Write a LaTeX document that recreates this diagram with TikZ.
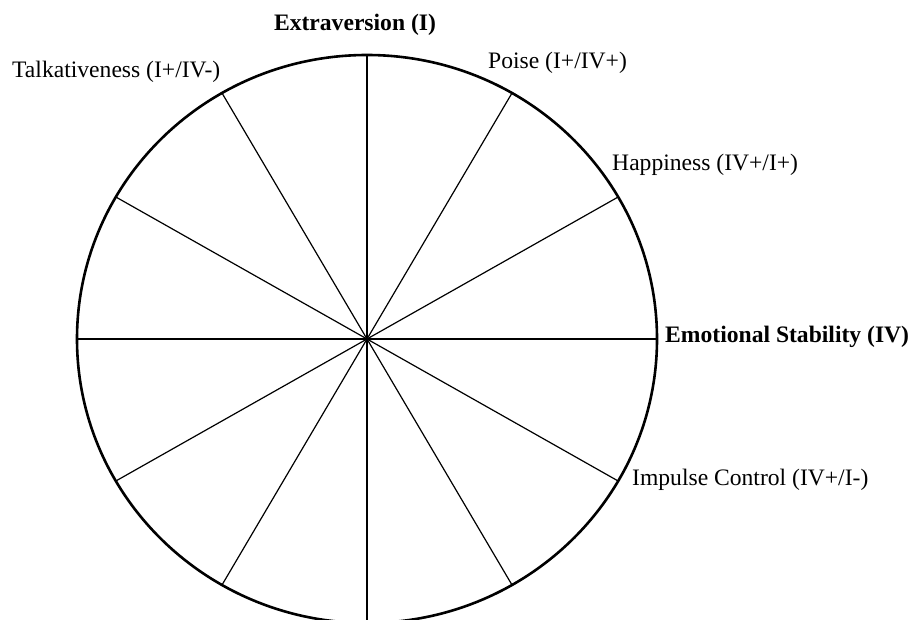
\documentclass[tikz,border=0pt]{standalone}
\usepackage{fontspec}
\setmainfont{Liberation Serif}
\begin{document}
\begin{tikzpicture}[x=1pt,y=1pt,
    rim/.style={line width=2.6pt},
    axis/.style={line width=2.4pt},
    spoke/.style={line width=1.2pt},
    lbl/.style={inner sep=0pt,anchor=west,font=\fontsize{23.6}{27}\selectfont},
    blbl/.style={lbl,font=\fontsize{23.6}{27}\selectfont\bfseries}]
\useasboundingbox (0,0) rectangle (909,619);
\coordinate (c) at (367,280);
\foreach \a in {0,30,...,330}
    \path (c) ++(\a:290 and 284) coordinate (s\a);
\foreach \a in {30,60,120,150,210,240,300,330}
    \draw[spoke](c)--(s\a);
\draw[axis](s180)--(s0);
\draw[axis](s270)--(s90);
\draw[rim](c) ellipse [x radius=290, y radius=284];
\node[blbl,anchor=center] (ext) at (355,594) {Extraversion (I)};
\node[lbl] (talk) at (12,547) {Talkativeness (I+/IV-)};
\node[lbl] (poise) at (488,556) {Poise (I+/IV+)};
\node[lbl] (happy) at (612,454) {Happiness (IV+/I+)};
\node[blbl] (emo) at (665,282) {Emotional Stability (IV)};
\node[lbl] (imp) at (632,139) {Impulse Control (IV+/I-)};
\end{tikzpicture}
\end{document}
